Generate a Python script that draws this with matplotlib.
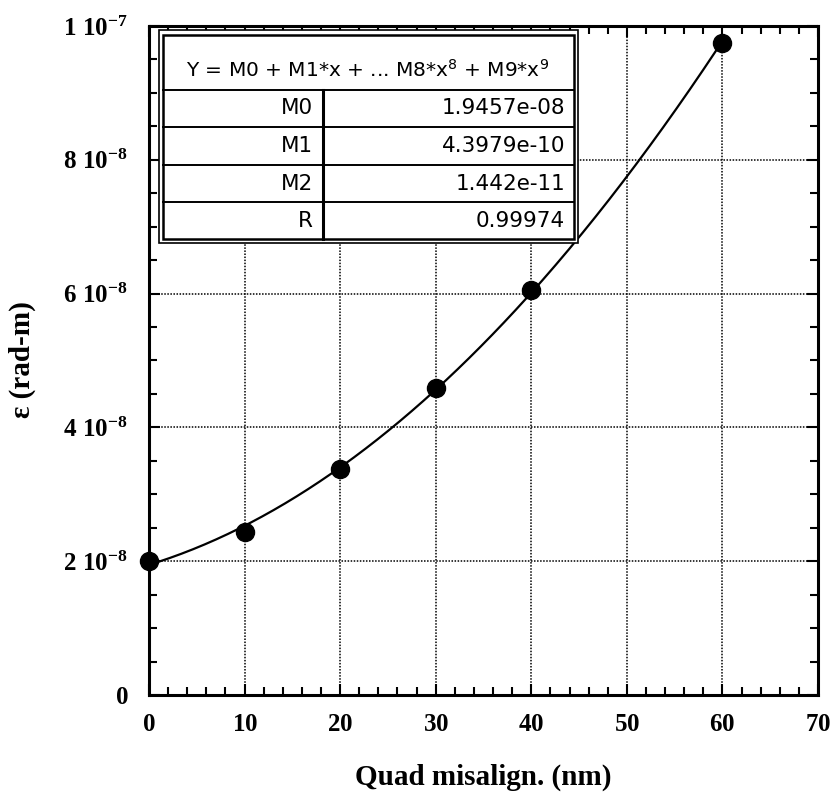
import numpy as np
import matplotlib
matplotlib.use("Agg")
import matplotlib.pyplot as plt
from matplotlib.ticker import MultipleLocator, FixedLocator, FixedFormatter

# ---- data ----
x_vals = [0, 10, 20, 30, 40, 60]
y_vals = [2.0e-8, 2.43e-8, 3.38e-8, 4.59e-8, 6.06e-8, 9.74e-8]
coef_names = ["M0", "M1", "M2", "R"]
coef_text = ["1.9457e-08", "4.3979e-10", "1.442e-11", "0.99974"]
M0, M1, M2 = 1.9457e-08, 4.3979e-10, 1.442e-11
x_ticks = [0, 10, 20, 30, 40, 50, 60, 70]
x_tick_labels = [r"$\mathbf{%d}$" % v for v in x_ticks]
y_ticks = [0, 2e-8, 4e-8, 6e-8, 8e-8, 1e-7]
y_tick_labels = [r"$\mathbf{0}$", r"$\mathbf{2\;10^{-8}}$", r"$\mathbf{4\;10^{-8}}$",
                 r"$\mathbf{6\;10^{-8}}$", r"$\mathbf{8\;10^{-8}}$",
                 r"$\mathbf{1\;10^{-7}}$"]

plt.rcParams['font.family'] = ['Liberation Serif', 'DejaVu Serif']
plt.rcParams['mathtext.fontset'] = 'custom'
plt.rcParams['mathtext.rm'] = 'Liberation Serif:bold'
plt.rcParams['mathtext.bf'] = 'Liberation Serif:bold'

W, H = 834, 805
fig = plt.figure(figsize=(W / 100, H / 100), dpi=100)
L, R_, T, B = 149, 818, 26, 695
ax = fig.add_axes([L / W, 1 - B / H, (R_ - L) / W, (B - T) / H])

xf = np.linspace(0, 60, 300)
yf = M0 + M1 * xf + M2 * xf ** 2
ax.plot(xf, yf, color='black', lw=1.6, zorder=3)
ax.plot(x_vals, y_vals, 'o', color='black', ms=13, zorder=4, clip_on=False)

ax.set_xlim(0, 70)
ax.set_ylim(0, 1e-7)
ax.xaxis.set_major_locator(FixedLocator(x_ticks))
ax.xaxis.set_major_formatter(FixedFormatter(x_tick_labels))
ax.xaxis.set_minor_locator(MultipleLocator(2))
ax.yaxis.set_major_locator(FixedLocator(y_ticks))
ax.yaxis.set_major_formatter(FixedFormatter(y_tick_labels))
ax.yaxis.set_minor_locator(MultipleLocator(0.5e-8))

ax.grid(True, which='major', color='black', linestyle=(0, (1, 1)), lw=1.1)
ax.tick_params(which='both', direction='in', top=True, right=True, width=1.5)
ax.tick_params(which='major', length=8, labelsize=18)
ax.tick_params(which='minor', length=6)
ax.tick_params(axis='x', which='major', pad=14)
ax.tick_params(axis='y', which='major', pad=15)
for s in ax.spines.values():
    s.set_linewidth(2.2)

fig.text(483 / W, 1 - 777 / H, "Quad misalign. (nm)", ha='center', va='center',
         fontsize=21, fontweight='bold')
fig.text(22 / W, 1 - 360 / H, "ε (rad-m)", ha='center', va='center', rotation=90,
         fontsize=21, fontweight='bold')

# ---- fit table (pixel coordinates overlay) ----
tab = fig.add_axes([0, 0, 1, 1], zorder=10)
tab.set_xlim(0, W)
tab.set_ylim(H, 0)
tab.axis('off')
tab.patch.set_alpha(0)

ox0, ox1, oy0, oy1 = 159, 578, 30, 243
ix0, ix1, iy0, iy1 = 163, 574, 35, 239
tab.add_patch(plt.Rectangle((ox0, oy0), ox1 - ox0, oy1 - oy0, facecolor='white',
                            edgecolor='black', lw=1.2))
tab.add_patch(plt.Rectangle((ix0, iy0), ix1 - ix0, iy1 - iy0, facecolor='white',
                            edgecolor='black', lw=1.8))
row_lines = [90, 127.5, 165, 202.5]
for yy in row_lines:
    tab.plot([ix0, ix1], [yy, yy], color='black', lw=1.4)
tab.plot([323, 323], [90, iy1], color='black', lw=2.2)

tab.text(368, 70, r"Y = M0 + M1*x + ... M8*x$^{8}$ + M9*x$^{9}$", ha='center',
         va='center', fontsize=14.5, family='DejaVu Sans', fontweight='normal',
         math_fontfamily='dejavusans')
row_centers = [108.5, 146, 184, 221]
for name, val, yc in zip(coef_names, coef_text, row_centers):
    tab.text(313, yc, name, ha='right', va='center', fontsize=15.5,
             family='DejaVu Sans', fontweight='normal')
    tab.text(565, yc, val, ha='right', va='center', fontsize=15.5,
             family='DejaVu Sans', fontweight='normal')

fig.savefig("out.png", dpi=100, facecolor='white')
